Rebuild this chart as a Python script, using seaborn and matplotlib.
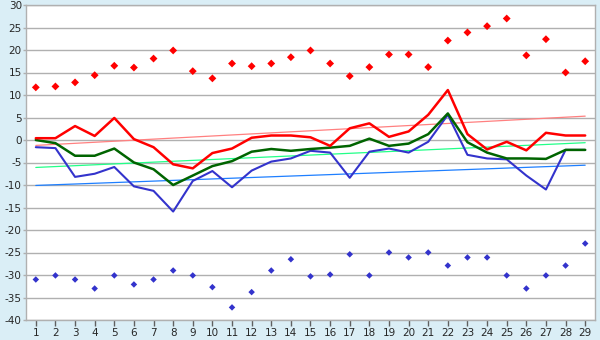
import matplotlib
matplotlib.use('Agg')
import matplotlib.pyplot as plt
import numpy as np
import pandas as pd
import seaborn as sns

# Data
days = list(range(1, 30))

upper_pts = [11.7, 11.9, 12.8, 14.4, 16.5, 16.1, 18.1, 19.9, 15.3, 13.7,
             17.0, 16.4, 17.0, 18.4, 19.9, 17.0, 14.2, 16.2, 19.0, 19.0,
             16.2, 22.1, 23.9, 25.3, 27.0, 18.8, 22.4, 15.0, 17.5]
lower_pts = [-31.0, -30.1, -31.0, -33.0, -30.1, -32.1, -31.0, -29.0, -30.1, -32.7,
             -37.2, -33.8, -29.0, -26.5, -30.3, -29.9, -25.4, -30.1, -25.0, -26.1,
             -25.0, -27.9, -26.1, -26.1, -30.1, -33.0, -30.1, -27.9, -23.0]

red_line = [0.4, 0.4, 3.1, 0.9, 4.9, 0.2, -1.6, -5.4, -6.3, -2.9,
            -1.9, 0.5, 1.0, 1.0, 0.6, -1.3, 2.6, 3.7, 0.7, 1.9,
            5.6, 11.1, 1.3, -2.1, -0.4, -2.3, 1.6, 1.0, 1.0]
green_line = [0.0, -0.7, -3.5, -3.5, -1.9, -5.0, -6.5, -10.0, -7.9, -5.8,
              -4.7, -2.6, -2.0, -2.4, -2.0, -1.7, -1.3, 0.3, -1.3, -0.8,
              1.3, 5.9, -0.5, -2.8, -4.1, -4.1, -4.2, -2.2, -2.2]
blue_line = [-1.6, -1.8, -8.2, -7.5, -6.0, -10.3, -11.3, -15.9, -9.1, -6.9,
             -10.5, -6.8, -4.8, -4.1, -2.4, -2.8, -8.4, -2.6, -1.9, -2.8,
             -0.4, 5.6, -3.3, -4.1, -4.3, -7.9, -11.0, -2.2, -2.2]

# trend lines: value at first and last day
trend_days = [1, 29]
red_trend = [-1.2, 5.3]
green_trend = [-6.1, -0.6]
blue_trend = [-10.1, -5.6]

df = pd.DataFrame({'day': days, 'upper': upper_pts, 'lower': lower_pts,
                   'red': red_line, 'green': green_line, 'blue': blue_line})
df_trend = pd.DataFrame({'day': trend_days, 'red': red_trend,
                         'green': green_trend, 'blue': blue_trend})

sns.set_style('white')
plt.rcParams['font.family'] = ['DejaVu Sans']
plt.rcParams['axes.unicode_minus'] = False

bg = '#DAEEF6'
grid_c = '#B0B0B0'

fig = plt.figure(figsize=(6, 3.4), dpi=100, facecolor=bg)
ax = fig.add_axes([26 / 600, 20 / 340, 569 / 600, 315 / 340])
ax.set_facecolor('white')

# trend lines first, underneath
sns.lineplot(data=df_trend, x='day', y='red', color='#FF8080', linewidth=0.9, ax=ax)
sns.lineplot(data=df_trend, x='day', y='green', color='#22FF88', linewidth=0.9, ax=ax)
sns.lineplot(data=df_trend, x='day', y='blue', color='#1E7FFF', linewidth=0.9, ax=ax)

sns.lineplot(data=df, x='day', y='blue', color='#3333CC', linewidth=1.5, ax=ax)
sns.lineplot(data=df, x='day', y='green', color='#006400', linewidth=1.8, ax=ax)
sns.lineplot(data=df, x='day', y='red', color='#FF0000', linewidth=1.8, ax=ax)

sns.scatterplot(data=df, x='day', y='upper', marker='D', s=16, color='#FF0000',
                edgecolor='none', ax=ax)
sns.scatterplot(data=df, x='day', y='lower', marker='D', s=11, color='#3333CC',
                edgecolor='none', ax=ax)

ax.set_xlim(0.5, 29.5)
ax.set_ylim(-40, 30)
ax.set_xticks(days)
ax.set_yticks(range(-40, 31, 5))
ax.set_xlabel('')
ax.set_ylabel('')

ax.yaxis.grid(True, color=grid_c, linewidth=1)
ax.xaxis.grid(False)
ax.set_axisbelow(True)
for s in ax.spines.values():
    s.set_color(grid_c)
    s.set_linewidth(1)

ax.tick_params(axis='x', length=4, width=1, color='#606060', labelsize=7.5, pad=2,
               direction='out', bottom=True)
ax.tick_params(axis='y', length=2, width=1, color=grid_c, labelsize=7.5, pad=1,
               left=True)

fig.savefig('out.png', dpi=100, facecolor=bg)
